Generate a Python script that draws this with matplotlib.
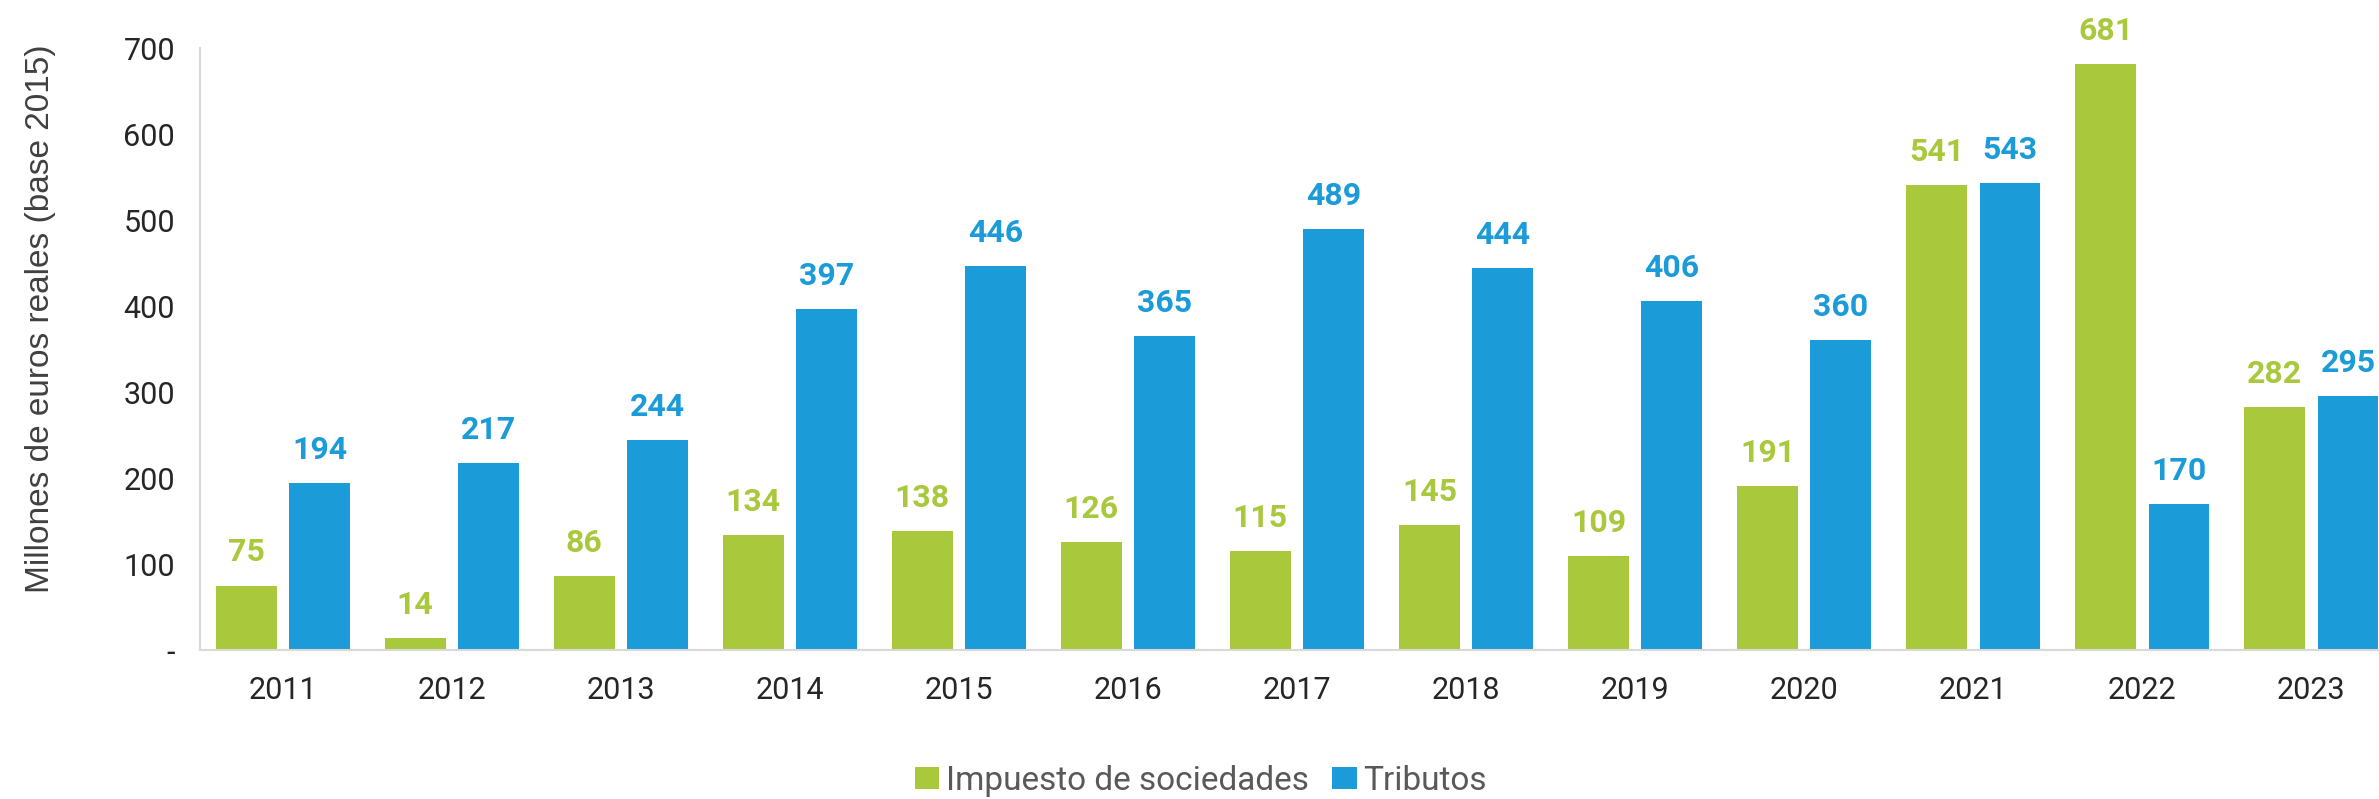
import matplotlib.pyplot as plt
import numpy as np

years = ['2011', '2012', '2013', '2014', '2015', '2016', '2017', '2018', '2019', '2020', '2021', '2022', '2023']
sociedades = [75, 14, 86, 134, 138, 126, 115, 145, 109, 191, 541, 681, 282]
tributos = [194, 217, 244, 397, 446, 365, 489, 444, 406, 360, 543, 170, 295]

green = '#A9C83C'
blue = '#1B9BD7'

plt.rcParams['font.family'] = ['Roboto', 'DejaVu Sans']

fig = plt.figure(figsize=(23.79, 7.99), dpi=100)
ax = fig.add_axes([200 / 2379, 149 / 799, 1 - 200 / 2379, 602 / 799])

x = np.arange(len(years))
w = 0.36
off = 0.217
b1 = ax.bar(x - off, sociedades, w, color=green, label='Impuesto de sociedades')
b2 = ax.bar(x + off, tributos, w, color=blue, label='Tributos')

# etiquetas de valor
for rect, v in zip(b1, sociedades):
    ax.annotate(f'{v}', (rect.get_x() + rect.get_width() / 2, v), xytext=(0, 13),
                textcoords='offset points', ha='center', va='bottom',
                fontsize=23, fontweight='bold', color=green)
for rect, v in zip(b2, tributos):
    ax.annotate(f'{v}', (rect.get_x() + rect.get_width() / 2, v), xytext=(0, 13),
                textcoords='offset points', ha='center', va='bottom',
                fontsize=23, fontweight='bold', color=blue)

ax.set_xlim(-0.49, 12.40)
ax.set_ylim(0, 700)
ax.set_xticks(x)
ax.set_xticklabels(years)
yt = [0, 100, 200, 300, 400, 500, 600, 700]
ax.set_yticks(yt)
ax.set_yticklabels(['-'] + [str(v) for v in yt[1:]])
ax.tick_params(axis='both', length=0, labelsize=22, colors='#262626')
ax.tick_params(axis='x', pad=19)
ax.tick_params(axis='y', pad=18)

for s in ['top', 'right']:
    ax.spines[s].set_visible(False)
ax.spines['left'].set_color('#d9d9d9')
ax.spines['bottom'].set_color('#d9d9d9')
ax.spines['left'].set_linewidth(1.5)
ax.spines['bottom'].set_linewidth(1.5)

ax.set_ylabel('Millones de euros reales (base 2015)', fontsize=24, color='#404040',
              family=['Liberation Sans', 'DejaVu Sans'])
ax.yaxis.set_label_coords(-0.066, 0.55)

fig.legend(loc='center', bbox_to_anchor=(1201 / 2379, 1 - 781 / 799), ncol=2,
           frameon=False, fontsize=24, handlelength=0.73, handleheight=0.65,
           handletextpad=0.2, columnspacing=0.7, labelcolor='#595959')

fig.savefig('out.png', dpi=100)
